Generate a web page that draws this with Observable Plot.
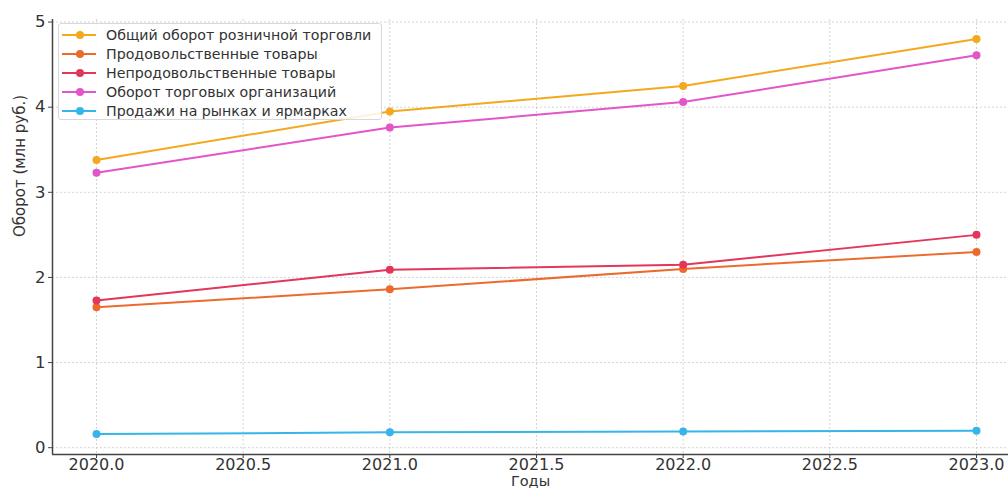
<!DOCTYPE html>
<html>
<head>
<meta charset="utf-8">
<script src="https://cdn.jsdelivr.net/npm/d3@7"></script>
<script src="https://cdn.jsdelivr.net/npm/@observablehq/plot@0.6"></script>
<style>
  html, body { margin: 0; padding: 0; background: #fff; }
  body { width: 1008px; height: 488px; overflow: hidden; position: relative; font-family: "DejaVu Sans", sans-serif; }
  #chart { position: absolute; left: 0; top: 0; }
  #legend { position: absolute; left: 58px; top: 23px; width: 324px; height: 97px; background: rgba(255,255,255,0.85);
            border: 1px solid #d8d8d8; border-radius: 3px; box-sizing: border-box; padding-top: 1px; }
  .item { height: 19px; display: flex; align-items: center; font-size: 14.2px; color: #333; white-space: nowrap; }
  .sw { position: relative; width: 34px; height: 12px; margin-left: 3px; margin-right: 10px; }
  .sw .ln { position: absolute; left: 0; right: 0; top: 5px; height: 2px; }
  .sw .dt { position: absolute; left: 14px; top: 2px; width: 8px; height: 8px; border-radius: 50%; }
</style>
</head>
<body>
<div id="chart"></div>
<div id="legend"></div>
<script>
const years = [2020, 2021, 2022, 2023];
const seriesNames = [
  "Общий оборот розничной торговли",
  "Продовольственные товары",
  "Непродовольственные товары",
  "Оборот торговых организаций",
  "Продажи на рынках и ярмарках"
];
const totalRetail = [3.38, 3.95, 4.25, 4.80];
const foodGoods = [1.65, 1.86, 2.10, 2.30];
const nonFoodGoods = [1.73, 2.09, 2.15, 2.50];
const tradeOrgs = [3.23, 3.76, 4.06, 4.61];
const marketSales = [0.16, 0.18, 0.19, 0.20];
const colors = ["#F3A81E", "#EC6A2C", "#E2365A", "#E256C8", "#36B5EA"];
const xTicks = [2020, 2020.5, 2021, 2021.5, 2022, 2022.5, 2023];
const yTicks = [0, 1, 2, 3, 4, 5];

const valuesList = [totalRetail, foodGoods, nonFoodGoods, tradeOrgs, marketSales];
const data = [];
valuesList.forEach((vals, i) => vals.forEach((v, j) => data.push({series: seriesNames[i], year: years[j], value: v})));

const plot = Plot.plot({
  width: 1008,
  height: 488,
  marginTop: 19,
  marginBottom: 34,
  marginLeft: 52,
  marginRight: 0,
  style: {fontFamily: "DejaVu Sans, sans-serif", fontSize: "16px", color: "#333", background: "#fff", overflow: "visible"},
  x: {domain: [2019.85, 2023.15], range: [52, 1020], label: null},
  y: {domain: [-0.08, 5.03], label: null},
  color: {domain: seriesNames, range: colors},
  marks: [
    Plot.gridX(xTicks, {stroke: "#bbb", strokeOpacity: 0.8, strokeDasharray: "2,2", strokeWidth: 0.8}),
    Plot.gridY(yTicks, {stroke: "#bbb", strokeOpacity: 0.8, strokeDasharray: "2,2", strokeWidth: 0.8}),
    Plot.ruleX([2019.85], {stroke: "#444", strokeWidth: 1.5}),
    Plot.ruleY([-0.08], {stroke: "#444", strokeWidth: 1.5}),
    Plot.axisX(xTicks, {tickSize: 4, tickPadding: 0, fontSize: 16, fill: "#333", stroke: "#444", tickFormat: d => d.toFixed(1)}),
    Plot.axisY(yTicks, {tickSize: 4, tickPadding: 3, fontSize: 16.5, fill: "#333", stroke: "#444", tickFormat: d => String(d)}),
    Plot.line(data, {x: "year", y: "value", z: "series", stroke: "series", strokeWidth: 2}),
    Plot.dot(data, {x: "year", y: "value", fill: "series", r: 4}),
    Plot.text(["Годы"], {frameAnchor: "bottom", dy: 31, fontSize: 14.5, fill: "#333", lineAnchor: "bottom"}),
    Plot.text(["Оборот (млн руб.)"], {frameAnchor: "left", dx: -32, dy: 0, rotate: -90, fontSize: 15, fill: "#333"})
  ]
});
document.getElementById("chart").appendChild(plot);

const legend = document.getElementById("legend");
seriesNames.forEach((name, i) => {
  const item = document.createElement("div");
  item.className = "item";
  item.innerHTML = `<div class="sw"><div class="ln" style="background:${colors[i]}"></div><div class="dt" style="background:${colors[i]}"></div></div><span>${name}</span>`;
  legend.appendChild(item);
});
</script>
</body>
</html>
